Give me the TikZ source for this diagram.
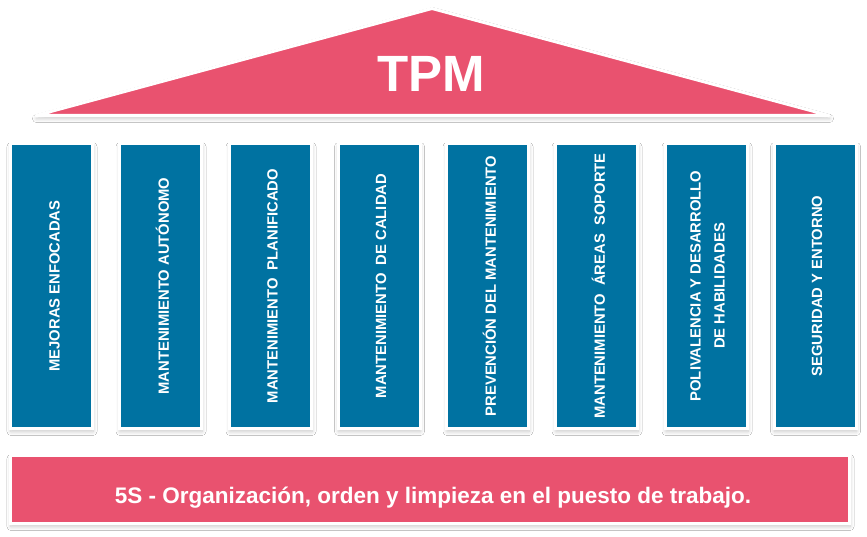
\documentclass[tikz,border=0pt]{standalone}
\usepackage{fontspec}
\usetikzlibrary{shadows.blur}
\newfontfamily\pillarfont{Liberation Sans}[UprightFont={* Bold}]
\newfontfamily\barfont{Liberation Sans}[UprightFont={* Bold}]
\newfontfamily\tpmfont{Liberation Sans}[UprightFont={* Bold}]
\definecolor{roofpink}{HTML}{E9526F}
\definecolor{pillarblue}{HTML}{0072A1}
\tikzset{
  softshadow/.style={blur shadow={shadow blur steps=8, shadow xshift=0.5pt, shadow yshift=-3pt, shadow opacity=22, shadow blur radius=4pt}},
  pillar/.style={rectangle, fill=pillarblue, draw=white, line width=3pt, minimum width=82pt, minimum height=285pt, inner sep=0pt, softshadow},
  ptext/.style={rotate=90, text=white, font=\pillarfont\fontsize{14.8}{24}\selectfont, align=center, inner sep=0pt},
  basebar/.style={rectangle, fill=roofpink, draw=white, line width=3pt, minimum width=839pt, minimum height=68pt, inner sep=0pt, softshadow},
  roof/.style={fill=roofpink, draw=white, line width=3pt, line join=round, softshadow},
}
\begin{document}
\begin{tikzpicture}[x=1pt,y=-1pt]
\useasboundingbox (0,0) rectangle (867,537);
\fill[white] (0,0) rectangle (867,537);
% roof
\draw[roof] (36,115.5) -- (432,8.5) -- (829,115.5) -- cycle;
\node[anchor=base, text=white, font=\tpmfont\fontsize{51}{51}\selectfont, inner sep=0pt] (tpm) at (431.5,92) {TPM};
% pillars
\node[pillar] (p1) at (51.5,286) {};
\node[pillar] (p2) at (160.5,286) {};
\node[pillar] (p3) at (270.5,286) {};
\node[pillar] (p4) at (379,286) {};
\node[pillar] (p5) at (487.5,286) {};
\node[pillar] (p6) at (596.5,286) {};
\node[pillar] (p7) at (706.5,286) {};
\node[pillar] (p8) at (815,286) {};
\node[ptext] (t1) at ([xshift=3pt]p1.center) {MEJORAS ENFOCADAS};
\node[ptext] (t2) at ([xshift=2pt]p2.center) {MANTENIMIENTO AUTÓNOMO};
\node[ptext] (t3) at ([xshift=2pt]p3.center) {MANTENIMIENTO\ \ PLANIFICADO};
\node[ptext] (t4) at ([xshift=2pt]p4.center) {MANTENIMIENTO\ \ DE CALIDAD};
\node[ptext] (t5) at ([xshift=2pt]p5.center) {PREVENCIÓN DEL MANTENIMIENTO};
\node[ptext] (t6) at ([xshift=2pt]p6.center) {MANTENIMIENTO\ \ ÁREAS\ \ SOPORTE};
\node[ptext] (t7) at ([xshift=1pt]p7.center) {POLIVALENCIA Y DESARROLLO\\DE HABILIDADES};
\node[ptext] (t8) at ([xshift=2pt]p8.center) {SEGURIDAD Y ENTORNO};
% base
\node[basebar] (base) at (430,489.5) {};
\node[anchor=base, text=white, font=\barfont\fontsize{22.5}{22.5}\selectfont, inner sep=0pt] (basetext) at (433,503) {5S - Organización, orden y limpieza en el puesto de trabajo.};
\end{tikzpicture}
\end{document}
